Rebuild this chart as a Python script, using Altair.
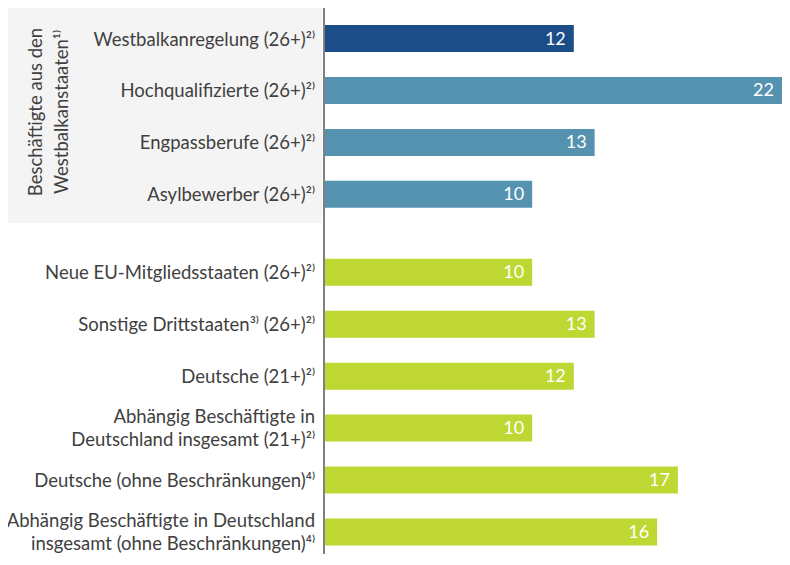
import altair as alt
import pandas as pd

categories = [
    "Westbalkanregelung (26+)²⁾",
    "Hochqualifizierte (26+)²⁾",
    "Engpassberufe (26+)²⁾",
    "Asylbewerber (26+)²⁾",
    "Neue EU-Mitgliedsstaaten (26+)²⁾",
    "Sonstige Drittstaaten³⁾ (26+)²⁾",
    "Deutsche (21+)²⁾",
    "Abhängig Beschäftigte in\nDeutschland insgesamt (21+)²⁾",
    "Deutsche (ohne Beschränkungen)⁴⁾",
    "Abhängig Beschäftigte in Deutschland\ninsgesamt (ohne Beschränkungen)⁴⁾",
]
values = [12, 22, 13, 10, 10, 13, 12, 10, 17, 16]
positions = [0, 1, 2, 3, 4.5, 5.5, 6.5, 7.5, 8.5, 9.5]
groups = ["Westbalkanregelung", "Westbalkan", "Westbalkan", "Westbalkan",
          "Vergleich", "Vergleich", "Vergleich", "Vergleich", "Vergleich", "Vergleich"]
group_names = ["Westbalkanregelung", "Westbalkan", "Vergleich"]
group_colors = ["#1b4d89", "#5592b0", "#bed732"]
box_title = ["Beschäftigte aus den", "Westbalkanstaaten¹⁾"]

df = pd.DataFrame({"cat": categories, "value": values, "pos": positions, "group": groups})
df["multi"] = df["cat"].str.contains("\n")

W, H = 774, 546
FONT = "Lato"
FS = 18.5
LH = 23

xs = alt.Scale(domain=[0, 22], range=[316, 774])
ys = alt.Scale(domain=[0, 9.5], range=[25.5, 529])

base = alt.Chart(df)

box = alt.Chart(pd.DataFrame({"a": [0]})).mark_rect(color="#f4f4f4").encode(
    x=alt.value(0), x2=alt.value(314), y=alt.value(0), y2=alt.value(215)
)

box_text = alt.Chart(pd.DataFrame({"t": ["\n".join(box_title)]})).mark_text(
    angle=270, align="center", baseline="middle", font=FONT, fontSize=FS,
    color="#404040", lineBreak="\n", lineHeight=26
).encode(text="t:N", x=alt.value(28), y=alt.value(104))

bars = base.mark_bar(orient="horizontal", size=27).encode(
    x=alt.X("value:Q", scale=xs, axis=None),
    y=alt.Y("pos:Q", scale=ys, axis=None),
    color=alt.Color("group:N", scale=alt.Scale(domain=group_names, range=group_colors), legend=None),
)

vals = base.mark_text(align="right", baseline="middle", dx=-8, dy=1, font=FONT, fontSize=18,
                      color="white").encode(
    x=alt.X("value:Q", scale=xs), y=alt.Y("pos:Q", scale=ys), text="value:Q"
)

labels_single = base.transform_filter("!datum.multi").mark_text(
    align="right", baseline="middle", dy=1, font=FONT, fontSize=FS,
    color="#404040", lineBreak="\n", lineHeight=LH).encode(
    x=alt.value(307), y=alt.Y("pos:Q", scale=ys), text="cat:N"
)

labels_multi = base.transform_filter("datum.multi").mark_text(
    align="right", baseline="middle", dy=-11.5, font=FONT, fontSize=FS,
    color="#404040", lineBreak="\n", lineHeight=LH).encode(
    x=alt.value(307), y=alt.Y("pos:Q", scale=ys), text="cat:N"
)

axis_line = alt.Chart(pd.DataFrame({"z": [0]})).mark_rule(color="#808080", strokeWidth=2).encode(
    x=alt.X("z:Q", scale=xs), y=alt.value(0), y2=alt.value(H)
)

chart = alt.layer(box, box_text, bars, vals, labels_single, labels_multi, axis_line).properties(
    width=W, height=H, padding=0, autosize=alt.AutoSizeParams(type="none")
).configure_view(stroke=None)

chart.save("out.html", embed_options={"renderer": "svg", "actions": False})
